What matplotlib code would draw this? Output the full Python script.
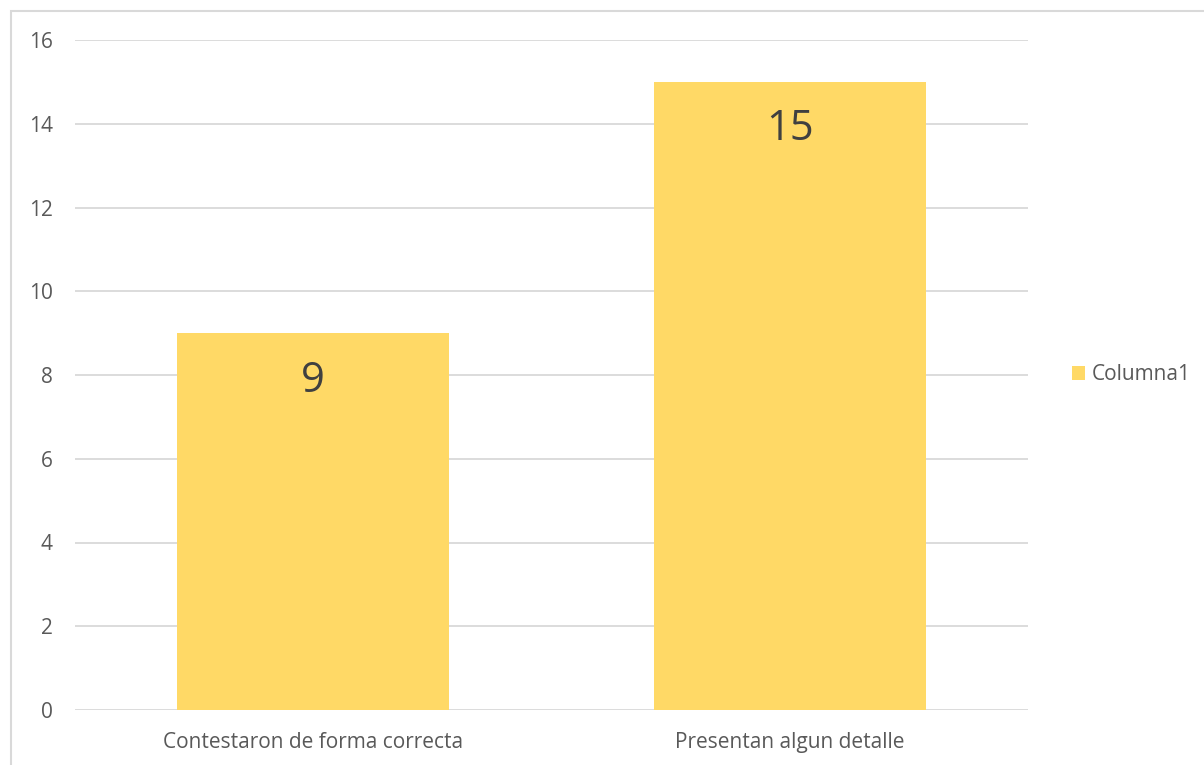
import matplotlib.pyplot as plt
from matplotlib.patches import Rectangle

categories = ['Contestaron de forma correcta', 'Presentan algun detalle']
values = [9, 15]
series_name = 'Columna1'
yticks = [0, 2, 4, 6, 8, 10, 12, 14, 16]

bar_color = '#FFD966'
text_color = '#595959'
grid_color = '#D9D9D9'

plt.rcParams['font.family'] = ['Open Sans', 'DejaVu Sans']

fig = plt.figure(figsize=(12.04, 7.65), dpi=100)

# light frame around the chart area
fig.patches.append(Rectangle((11 / 1204, -0.1), 1.2, (765 - 11) / 765 + 0.1,
                             transform=fig.transFigure, fill=False,
                             edgecolor=grid_color, linewidth=1.5))

ax = fig.add_axes([75 / 1204, 55 / 765, 953 / 1204, 670 / 765])
x = range(len(categories))
bars = ax.bar(x, values, width=0.57, color=bar_color, label=series_name, zorder=2)

ax.set_xlim(-0.5, 1.5)
ax.set_ylim(0, 16)
ax.set_yticks(yticks)
ax.set_xticks(list(x))
ax.set_xticklabels(categories)
ax.yaxis.grid(True, color=grid_color, linewidth=1.3, zorder=0)
for s in ax.spines.values():
    s.set_visible(False)
ax.tick_params(axis='both', length=0, colors=text_color, labelsize=15)
ax.tick_params(axis='y', pad=16)
ax.tick_params(axis='x', pad=16)

for rect, v in zip(bars, values):
    ax.annotate(str(v), (rect.get_x() + rect.get_width() / 2, v),
                xytext=(0, -19), textcoords='offset points',
                ha='center', va='top', fontsize=30, color='#404040')

ax.legend(loc='center left', bbox_to_anchor=(1.026, 0.5), frameon=False,
          fontsize=15, labelcolor=text_color, handlelength=0.65,
          handleheight=0.65, handletextpad=0.3)

fig.savefig('out.png', dpi=100)
